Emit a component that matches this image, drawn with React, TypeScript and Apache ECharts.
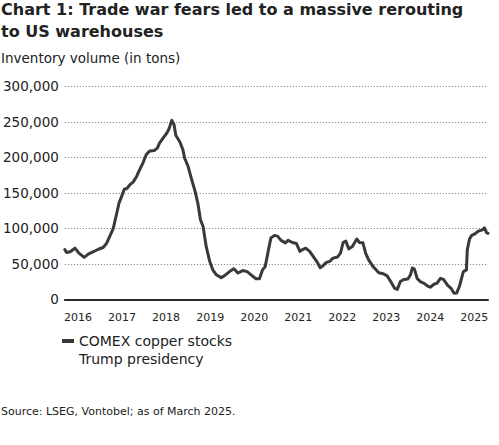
import { useEffect, useRef } from 'react';
import * as echarts from 'echarts';

// dates as decimal years, stocks in tons
const dates = [
  2015.7, 2015.74, 2015.82, 2015.93, 2016.02, 2016.14, 2016.24, 2016.35, 2016.46, 2016.57,
  2016.65, 2016.72, 2016.8, 2016.88, 2016.93, 2016.99, 2017.05, 2017.11, 2017.18, 2017.25,
  2017.33, 2017.4, 2017.48, 2017.55, 2017.63, 2017.73, 2017.8, 2017.85, 2017.93, 2018.01,
  2018.06, 2018.13, 2018.18, 2018.22, 2018.31, 2018.38, 2018.42, 2018.5, 2018.57, 2018.65,
  2018.72, 2018.78, 2018.84, 2018.91, 2018.99, 2019.06, 2019.14, 2019.25, 2019.32, 2019.44,
  2019.54, 2019.63, 2019.74, 2019.84, 2019.93, 2020.04, 2020.12, 2020.19, 2020.25, 2020.31,
  2020.38, 2020.46, 2020.53, 2020.61, 2020.71, 2020.77, 2020.87, 2020.96, 2021.04, 2021.1,
  2021.17, 2021.26, 2021.34, 2021.42, 2021.5, 2021.56, 2021.64, 2021.72, 2021.79, 2021.89,
  2021.96, 2022.02, 2022.08, 2022.15, 2022.23, 2022.33, 2022.39, 2022.47, 2022.53, 2022.6,
  2022.7, 2022.73, 2022.83, 2022.93, 2023.02, 2023.1, 2023.19, 2023.25, 2023.32, 2023.4,
  2023.49, 2023.55, 2023.59, 2023.64, 2023.7, 2023.77, 2023.86, 2023.94, 2024.0, 2024.09,
  2024.15, 2024.23, 2024.3, 2024.39, 2024.47, 2024.54, 2024.6, 2024.66, 2024.72, 2024.75,
  2024.82, 2024.84, 2024.89, 2024.94, 2025.02, 2025.09, 2025.17, 2025.23, 2025.28, 2025.31,
];

const comexStocks = [
  70000, 66000, 67000, 72000, 65000, 59000, 64000, 67000, 70500, 73000,
  79000, 88500, 100000, 121500, 135500, 145000, 155000, 156000, 161500, 165000,
  173000, 182500, 193000, 204000, 209000, 209500, 213000, 220000, 227000, 233500,
  239000, 252000, 246000, 231000, 222000, 211000, 199000, 187000, 171000, 154000,
  135500, 112000, 102500, 74500, 53500, 41500, 34500, 30500, 33000, 39000,
  43000, 37000, 40500, 39000, 34500, 29000, 29000, 41500, 46000, 65000,
  86500, 90000, 89000, 83000, 79500, 83000, 80000, 78500, 67500, 70000,
  72000, 67500, 60500, 53500, 44500, 47000, 52000, 53500, 58000, 59500,
  65000, 80000, 82000, 71000, 74500, 85000, 80000, 79500, 65000, 55500,
  46000, 44000, 37500, 36000, 33000, 25000, 15500, 14000, 25000, 28000,
  28500, 34500, 44000, 42500, 29500, 25000, 22500, 18500, 17000, 21500,
  22500, 29500, 28000, 20000, 15500, 8500, 9000, 18000, 32000, 39000,
  41500, 70000, 85000, 90000, 92500, 96000, 97500, 100500, 93500, 93000,
];

const yearLabels = [2016, 2017, 2018, 2019, 2020, 2021, 2022, 2023, 2024, 2025];

const FONT = 'DejaVu Sans';
const INK = '#222222';
const LINE = '#3b3936';

export default function App() {
  const chartRef = useRef<HTMLDivElement>(null);

  useEffect(() => {
    if (!chartRef.current) return;
    const chart = echarts.init(chartRef.current, undefined, { renderer: 'svg' });

    const option: echarts.EChartsOption = {
      animation: false,
      textStyle: { fontFamily: FONT, color: INK },
      title: [
        {
          text: 'Chart 1: Trade war fears led to a massive rerouting\nto US warehouses',
          left: 1,
          top: -2,
          padding: 0,
          textStyle: { fontFamily: FONT, fontSize: 16, fontWeight: 'bold', lineHeight: 22.5, color: INK },
        },
        {
          text: 'Inventory volume (in tons)',
          left: 1,
          top: 50,
          padding: 0,
          textStyle: { fontFamily: FONT, fontSize: 13.5, fontWeight: 'normal', lineHeight: 16, color: INK },
        },
        {
          text: 'Source: LSEG, Vontobel; as of March 2025.',
          left: 1,
          top: 405,
          padding: 0,
          textStyle: { fontFamily: FONT, fontSize: 11, fontWeight: 'normal', lineHeight: 13, color: INK },
        },
      ],
      legend: {
        orient: 'vertical',
        left: 62,
        top: 332,
        padding: 0,
        itemGap: 0,
        itemWidth: 12,
        itemHeight: 4,
        selectedMode: false,
        textStyle: { fontFamily: FONT, fontSize: 14, lineHeight: 18, color: INK },
        data: [
          { name: 'COMEX copper stocks', icon: 'rect' },
          { name: 'Trump presidency', icon: 'none' },
        ],
      },
      grid: {
        left: 63,
        right: 11,
        top: 86.3,
        bottom: 145.7,
        containLabel: false,
      },
      xAxis: {
        type: 'value',
        min: 2015.7,
        max: 2025.31,
        splitLine: { show: false },
        axisTick: { show: false },
        axisLine: { show: true, onZero: false, lineStyle: { color: '#2a2a2a', width: 2 } },
        axisLabel: {
          customValues: yearLabels,
          formatter: (v: number) => String(Math.round(v)),
          fontFamily: FONT,
          fontSize: 11,
          color: INK,
          margin: 13,
        },
      },
      yAxis: {
        type: 'value',
        min: 0,
        max: 300000,
        interval: 50000,
        axisLine: { show: false },
        axisTick: { show: false },
        splitLine: { show: true, lineStyle: { color: '#777777', width: 1, type: [1, 2] } },
        axisLabel: {
          formatter: (v: number) => v.toLocaleString('en-US'),
          fontFamily: FONT,
          fontSize: 13.5,
          color: INK,
          margin: 6,
        },
      },
      series: [
        {
          name: 'COMEX copper stocks',
          type: 'line',
          data: dates.map((d, i) => [d, comexStocks[i]]),
          showSymbol: false,
          symbol: 'none',
          smooth: false,
          color: LINE,
          lineStyle: { color: LINE, width: 3, join: 'round', cap: 'round' },
          z: 3,
        },
        {
          name: 'Trump presidency',
          type: 'line',
          data: [],
          symbol: 'none',
          color: 'transparent',
        },
      ],
    };

    chart.setOption(option);

    return () => {
      chart.dispose();
    };
  }, []);

  return (
    <div
      ref={chartRef}
      style={{ position: 'absolute', left: 0, top: 0, width: '499px', height: '445px', background: '#ffffff' }}
    />
  );
}
